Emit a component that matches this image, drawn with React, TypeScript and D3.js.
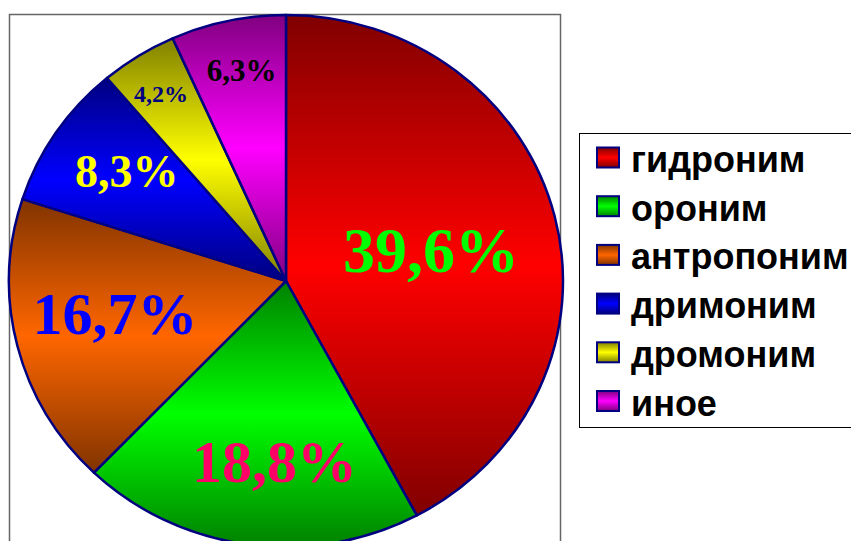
import React, { useEffect, useRef } from 'react'
import * as d3 from 'd3'

// categories and values (percent labels as shown on the chart)
const categories = ['гидроним', 'ороним', 'антропоним', 'дримоним', 'дромоним', 'иное']
const values = [39.6, 18.8, 16.7, 8.3, 4.2, 6.3]
const sliceColors = ['#ff0000', '#00ff00', '#ff6600', '#0000ff', '#ffff00', '#ff00ff']
const labelColors = ['#00ff00', '#ff0066', '#0000ff', '#ffff00', '#000080', '#000000']
const labelSizes = [64, 60, 60, 46, 24, 31]
// label placement: radius fraction and angle nudge (degrees) per slice
const labelRadius = [0.536, 0.681, 0.629, 0.707, 0.835, 0.807]
const labelNudge = [1.7, -4.4, 3, 1.8, -0.5, 0.6]

const W = 851
const H = 541

export default function App() {
  const ref = useRef<SVGSVGElement | null>(null)

  useEffect(() => {
    if (!ref.current) return
    const svg = d3.select(ref.current)
    svg.selectAll('*').remove()

    const cx = 286
    const cy = 281
    const rx = 277
    const ry = 266

    // vertical "dark - bright - dark" fill, like the office gradient
    const defs = svg.append('defs')
    sliceColors.forEach((c, i) => {
      const base = d3.rgb(c)
      const half = d3.rgb(base.r * 0.5, base.g * 0.5, base.b * 0.5).formatHex()
      const g = defs
        .append('linearGradient')
        .attr('id', 'grad' + i)
        .attr('x1', 0)
        .attr('y1', 0)
        .attr('x2', 0)
        .attr('y2', 1)
      g.append('stop').attr('offset', 0).attr('stop-color', half)
      g.append('stop').attr('offset', 0.5).attr('stop-color', c)
      g.append('stop').attr('offset', 1).attr('stop-color', half)
    })

    // plot area frame
    svg
      .append('rect')
      .attr('x', 9.5)
      .attr('y', 14.5)
      .attr('width', 551)
      .attr('height', 560)
      .attr('fill', 'none')
      .attr('stroke', '#666')
      .attr('stroke-width', 1.5)

    const pie = d3
      .pie<number>()
      .sort(null)
      .value((d) => d)
    const arcs = pie(values)
    const arc = d3.arc<d3.PieArcDatum<number>>().innerRadius(0).outerRadius(ry)

    const g = svg.append('g').attr('transform', `translate(${cx},${cy}) scale(${rx / ry},1)`)
    g.selectAll('path.slice')
      .data(arcs)
      .join('path')
      .attr('class', 'slice')
      .attr('d', (d) => arc(d) || '')
      .attr('fill', (_d, i) => `url(#grad${i})`)
      .attr('stroke', '#000080')
      .attr('stroke-width', 2.5)
      .attr('stroke-linejoin', 'round')
      .attr('vector-effect', 'non-scaling-stroke')

    // percentage labels
    svg
      .selectAll('text.pct')
      .data(arcs)
      .join('text')
      .attr('class', 'pct')
      .attr('x', (d, i) => {
        const a = (d.startAngle + d.endAngle) / 2 + (labelNudge[i] * Math.PI) / 180
        return cx + rx * labelRadius[i] * Math.sin(a)
      })
      .attr('y', (d, i) => {
        const a = (d.startAngle + d.endAngle) / 2 + (labelNudge[i] * Math.PI) / 180
        return cy - ry * labelRadius[i] * Math.cos(a) + labelSizes[i] * 0.34
      })
      .attr('text-anchor', 'middle')
      .attr('font-family', '"Liberation Serif", "Times New Roman", serif')
      .attr('font-weight', 700)
      .attr('font-size', (_d, i) => labelSizes[i])
      .attr('fill', (_d, i) => labelColors[i])
      .text((d) => String(d.data).replace('.', ',') + '%')

    // legend
    const lg = svg.append('g')
    lg.append('rect')
      .attr('x', 579.5)
      .attr('y', 133.5)
      .attr('width', 300)
      .attr('height', 294)
      .attr('fill', '#fff')
      .attr('stroke', '#000')
      .attr('stroke-width', 1)

    const rowY = d3
      .scalePoint<string>()
      .domain(categories)
      .range([172, 172 + 48.7 * 5])

    const rows = lg
      .selectAll('g.row')
      .data(categories)
      .join('g')
      .attr('class', 'row')
      .attr('transform', (d) => `translate(0,${rowY(d)})`)
    rows
      .append('rect')
      .attr('x', 597)
      .attr('y', -24.5)
      .attr('width', 22)
      .attr('height', 20)
      .attr('fill', (_d, i) => `url(#grad${i})`)
      .attr('stroke', '#000080')
      .attr('stroke-width', 2)
    rows
      .append('text')
      .attr('x', 631)
      .attr('y', 0)
      .attr('font-family', '"Liberation Sans", Arial, sans-serif')
      .attr('font-weight', 700)
      .attr('font-size', 36)
      .attr('fill', '#000')
      .text((d) => d)
  }, [])

  return (
    <svg
      ref={ref}
      width={W}
      height={H}
      style={{ position: 'absolute', left: 0, top: 0, background: '#fff', display: 'block' }}
    />
  )
}
